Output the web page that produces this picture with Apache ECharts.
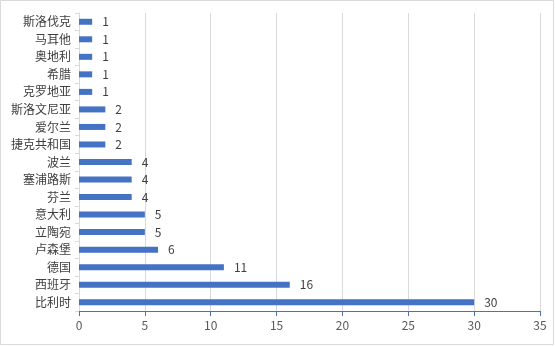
<!DOCTYPE html>
<html><head><meta charset="utf-8">
<script src="https://cdn.jsdelivr.net/npm/echarts@6/dist/echarts.min.js"></script>
<style>html,body{margin:0;padding:0;background:#fff}#c{width:555px;height:346px}</style>
</head><body><div id="c"></div>
<script>
const categories = ['比利时','西班牙','德国','卢森堡','立陶宛','意大利','芬兰','塞浦路斯','波兰','捷克共和国','爱尔兰','斯洛文尼亚','克罗地亚','希腊','奥地利','马耳他','斯洛伐克'];
const values = [30,16,11,6,5,5,4,4,4,2,2,2,1,1,1,1,1];
const xTicks = {min:0,max:35,interval:5};
const chart = echarts.init(document.getElementById('c'));
const font = '"Noto Sans CJK SC","Microsoft YaHei",sans-serif';
chart.setOption({
  animation:false,
  graphic:[{type:'rect',shape:{x:0.5,y:0.5,width:553,height:344},style:{fill:'none',stroke:'#d9d9d9',lineWidth:1},silent:true}],
  grid:{left:79,right:15,top:13,bottom:35,containLabel:false},
  xAxis:{type:'value',min:xTicks.min,max:xTicks.max,interval:xTicks.interval,
    axisLine:{show:true,lineStyle:{color:'#4472C4',width:1}},
    axisTick:{show:true,length:5,lineStyle:{color:'#4472C4'}},
    axisLabel:{color:'#595959',fontSize:12,fontFamily:font,margin:8},
    splitLine:{show:true,lineStyle:{color:'#d9d9d9',width:1}}},
  yAxis:{type:'category',data:categories,
    axisLine:{show:true,lineStyle:{color:'#d9d9d9'}},
    axisTick:{show:true,length:4,lineStyle:{color:'#d9d9d9'}},
    axisLabel:{color:'#404040',fontSize:12,fontFamily:font,margin:8}},
  series:[{type:'bar',data:values,barWidth:6,itemStyle:{color:'#4472C4'},
    label:{show:true,position:'right',distance:10,color:'#404040',fontSize:12,fontFamily:font}}]
});
</script></body></html>
